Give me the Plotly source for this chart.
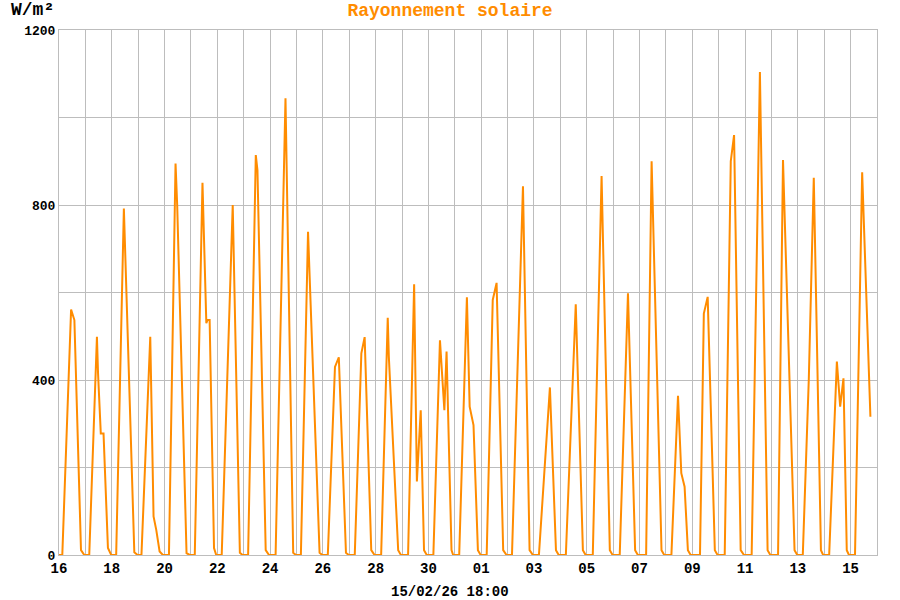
import pandas as pd
import plotly.graph_objects as go

# Solar radiation readings (W/m2), 16/01/26 -> 15/02/26 18:00
stamps = [
    # 16
    "2026-01-16 00:00", "2026-01-16 03:00", "2026-01-16 11:00", "2026-01-16 14:00", "2026-01-16 20:00", "2026-01-16 23:00",
    # 17
    "2026-01-17 03:30", "2026-01-17 09:30", "2026-01-17 10:30", "2026-01-17 11:30", "2026-01-17 14:00", "2026-01-17 16:30", "2026-01-17 20:30", "2026-01-17 23:30",
    # 18
    "2026-01-18 04:00", "2026-01-18 11:00", "2026-01-18 20:30", "2026-01-18 23:30",
    # 19
    "2026-01-19 03:00", "2026-01-19 11:00", "2026-01-19 14:00", "2026-01-19 16:30", "2026-01-19 19:30", "2026-01-19 22:30",
    # 20
    "2026-01-20 04:00", "2026-01-20 10:00", "2026-01-20 11:30", "2026-01-20 20:00", "2026-01-20 23:00",
    # 21
    "2026-01-21 03:30", "2026-01-21 10:30", "2026-01-21 14:00", "2026-01-21 15:00", "2026-01-21 17:00", "2026-01-21 21:00", "2026-01-21 23:00",
    # 22
    "2026-01-22 04:00", "2026-01-22 14:00", "2026-01-22 20:30", "2026-01-22 23:00",
    # 23
    "2026-01-23 04:00", "2026-01-23 11:00", "2026-01-23 12:30", "2026-01-23 20:00", "2026-01-23 23:00",
    # 24
    "2026-01-24 05:00", "2026-01-24 14:00", "2026-01-24 21:00", "2026-01-24 23:30",
    # 25
    "2026-01-25 04:00", "2026-01-25 10:30", "2026-01-25 21:00", "2026-01-25 23:30",
    # 26
    "2026-01-26 04:30", "2026-01-26 11:00", "2026-01-26 14:30", "2026-01-26 21:00", "2026-01-26 23:30",
    # 27
    "2026-01-27 05:00", "2026-01-27 11:00", "2026-01-27 14:00", "2026-01-27 20:00", "2026-01-27 23:00",
    # 28
    "2026-01-28 05:00", "2026-01-28 10:00", "2026-01-28 11:00", "2026-01-28 12:00", "2026-01-28 20:30", "2026-01-28 23:00",
    # 29
    "2026-01-29 05:30", "2026-01-29 11:00", "2026-01-29 12:30", "2026-01-29 13:30", "2026-01-29 17:00", "2026-01-29 17:30", "2026-01-29 20:00", "2026-01-29 22:30",
    # 30
    "2026-01-30 04:30", "2026-01-30 10:30", "2026-01-30 12:00", "2026-01-30 14:30", "2026-01-30 16:30", "2026-01-30 21:00", "2026-01-30 22:30",
    # 31
    "2026-01-31 04:00", "2026-01-31 11:00", "2026-01-31 13:30", "2026-01-31 17:00", "2026-01-31 21:00", "2026-01-31 23:30",
    # 01
    "2026-02-01 05:00", "2026-02-01 10:30", "2026-02-01 14:00", "2026-02-01 20:00", "2026-02-01 23:00",
    # 02
    "2026-02-02 04:00", "2026-02-02 14:00", "2026-02-02 20:00", "2026-02-02 23:00",
    # 03
    "2026-02-03 04:30", "2026-02-03 14:30", "2026-02-03 20:00", "2026-02-03 22:30",
    # 04
    "2026-02-04 05:00", "2026-02-04 14:00", "2026-02-04 20:30", "2026-02-04 23:00",
    # 05
    "2026-02-05 05:30", "2026-02-05 12:00", "2026-02-05 13:30", "2026-02-05 21:00", "2026-02-05 23:30",
    # 06
    "2026-02-06 06:00", "2026-02-06 13:30", "2026-02-06 20:00", "2026-02-06 22:30",
    # 07
    "2026-02-07 06:00", "2026-02-07 11:00", "2026-02-07 20:00", "2026-02-07 22:30",
    # 08
    "2026-02-08 05:00", "2026-02-08 11:00", "2026-02-08 14:00", "2026-02-08 17:00", "2026-02-08 20:00", "2026-02-08 22:30",
    # 09
    "2026-02-09 07:00", "2026-02-09 10:30", "2026-02-09 14:00", "2026-02-09 20:30", "2026-02-09 23:00",
    # 10
    "2026-02-10 05:30", "2026-02-10 11:00", "2026-02-10 14:00", "2026-02-10 20:00", "2026-02-10 23:00",
    # 11
    "2026-02-11 06:00", "2026-02-11 13:30", "2026-02-11 20:30", "2026-02-11 23:00",
    # 12
    "2026-02-12 06:00", "2026-02-12 10:30", "2026-02-12 21:00", "2026-02-12 23:30",
    # 13
    "2026-02-13 04:30", "2026-02-13 10:00", "2026-02-13 14:30", "2026-02-13 21:00", "2026-02-13 23:00",
    # 14
    "2026-02-14 04:30", "2026-02-14 11:30", "2026-02-14 14:30", "2026-02-14 17:30", "2026-02-14 20:30", "2026-02-14 22:30",
    # 15
    "2026-02-15 04:00", "2026-02-15 10:30", "2026-02-15 18:00",
]

watts = [
    0, 0, 561, 537, 11, 0,                  # 16
    0, 393, 499, 416, 278, 278, 16, 0,      # 17
    0, 792, 6, 0,                           # 18
    0, 499, 88, 57, 8, 0,                   # 19
    0, 895, 800, 4, 0,                      # 20
    0, 851, 530, 537, 537, 16, 0,           # 21
    0, 800, 5, 0,                           # 22
    0, 914, 880, 11, 0,                     # 23
    0, 1044, 5, 0,                          # 24
    0, 739, 5, 0,                           # 25
    0, 430, 452, 5, 0,                      # 26
    0, 461, 498, 11, 0,                     # 27
    0, 457, 542, 453, 11, 0,                # 28
    0, 619, 331, 168, 331, 270, 11, 0,      # 29
    0, 491, 430, 331, 465, 11, 0,           # 30
    0, 589, 339, 297, 11, 0,                # 31
    0, 583, 622, 11, 0,                     # 01
    0, 843, 11, 0,                          # 02
    0, 383, 11, 0,                          # 03
    0, 573, 11, 0,                          # 04
    0, 740, 866, 11, 0,                     # 05
    0, 598, 11, 0,                          # 06
    0, 900, 11, 0,                          # 07
    0, 364, 187, 156, 11, 0,                # 08
    0, 552, 590, 11, 0,                     # 09
    0, 900, 960, 11, 0,                     # 10
    0, 1104, 11, 0,                         # 11
    0, 903, 11, 0,                          # 12
    0, 404, 862, 11, 0,                     # 13
    0, 442, 339, 404, 11, 0,                # 14
    0, 875, 316,                            # 15
]

x_start = "2026-01-16"
x_end = "2026-02-16"
y_max = 1200
last_update = "15/02/26 18:00"

ORANGE = "#ff8c00"
GRID = "#bdbdbd"
MONO = "Liberation Mono, Courier New, monospace"
DAY_MS = 86400000

fig = go.Figure()
fig.add_trace(go.Scatter(
    x=pd.to_datetime(stamps),
    y=watts,
    mode="lines",
    line=dict(color=ORANGE, width=2),
    showlegend=False,
    hoverinfo="skip",
))

fig.update_layout(
    width=900, height=600,
    margin=dict(l=59, r=23, t=30, b=45),
    paper_bgcolor="white",
    plot_bgcolor="white",
    title=dict(
        text="Rayonnement solaire",
        x=0.5, xanchor="center",
        y=1 - 10 / 600, yref="container", yanchor="middle",
        font=dict(family=MONO, size=18, color=ORANGE, weight="bold"),
    ),
    annotations=[
        # unit label, top left
        dict(
            text="W/m²",
            xref="paper", yref="paper",
            x=(9 - 59) / 818, y=1.0 + 20 / 525,
            xanchor="left", yanchor="middle",
            showarrow=False,
            font=dict(family=MONO, size=18, color="black", weight="bold"),
        ),
        # last update stamp, centred on the page under the x axis
        dict(
            text=last_update,
            xref="paper", yref="paper",
            x=(450 - 59) / 818, y=(555 - 592) / 525,
            xanchor="center", yanchor="middle",
            showarrow=False,
            font=dict(family=MONO, size=14, color="black", weight="bold"),
        ),
    ],
)

fig.update_xaxes(
    type="date",
    range=[x_start, x_end],
    tick0=x_start, dtick=2 * DAY_MS,
    tickformat="%d",
    ticks="",
    showgrid=True, gridcolor=GRID, gridwidth=1,
    minor=dict(dtick=DAY_MS, tick0=x_start, showgrid=True, gridcolor=GRID, gridwidth=1),
    showline=True, linecolor=GRID, linewidth=1, mirror=True,
    tickfont=dict(family=MONO, size=14, color="black", weight="bold"),
    zeroline=False,
    automargin=False,
)

fig.update_yaxes(
    range=[0, y_max],
    tick0=0, dtick=400,
    ticks="",
    showgrid=True, gridcolor=GRID, gridwidth=1,
    minor=dict(dtick=200, showgrid=True, gridcolor=GRID, gridwidth=1),
    showline=True, linecolor=GRID, linewidth=1, mirror=True,
    tickfont=dict(family=MONO, size=13, color="black", weight="bold"),
    zeroline=False,
    automargin=False,
)

# drop the page's default body margin so the figure sits at the window corner
fig.write_html("out.html", config={"displayModeBar": False},
               post_script="document.body.style.margin = '0';")
